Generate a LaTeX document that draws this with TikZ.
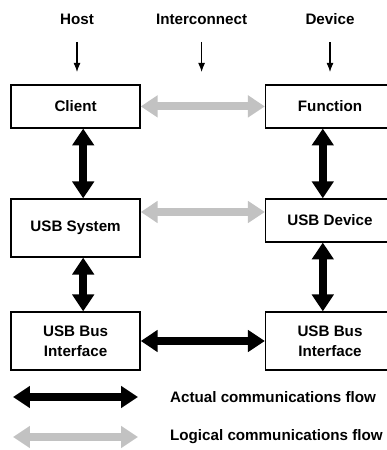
\documentclass[tikz,border=0pt]{standalone}
\usepackage{fontspec}
\setmainfont{Liberation Sans}
\usepackage{tikz}
\tikzset{>=latex}
\usetikzlibrary{arrows.meta}
\definecolor{logicgray}{gray}{0.76}
\tikzstyle{block} = [draw, line width=0.9pt, minimum width=3.225cm, inner sep=0pt, align=center, font=\bfseries\fontsize{10.8}{14}\selectfont]
\tikzstyle{heading} = [font=\bfseries\fontsize{10.8}{14}\selectfont]
\tikzstyle{pointer} = [line width=0.75pt, >={Latex[length=6.5pt,width=5pt]}, ->, shorten <=9pt]
\tikzstyle{flow} = [line width=5.6pt, >={Triangle[length=12pt,width=15pt]}, <->]
\tikzstyle{actual} = [flow, black]
\tikzstyle{logical} = [flow, logicgray]

\begin{document}
\begin{tikzpicture}
		\useasboundingbox (0,0) rectangle (9.675,11.25);
		\clip (0,0) rectangle (9.675,11.25);
		
		% Headings
		\node[heading] (host) at (1.925,10.775) {Host};
		\node[heading] (interconnect) at (5.04,10.775) {Interconnect};
		\node[heading] (device) at (8.25,10.775) {Device};
		
		% Coordinates
		\coordinate (hostin) at (1.925,9.45);
		\coordinate (linkin) at (5.04,9.45);
		\coordinate (devicein) at (8.25,9.45);
		\coordinate (lg) at (0,5.95);
		\coordinate (actualA) at (0.325,1.325);
		\coordinate (actualB) at (3.45,1.325);
		\coordinate (logicalA) at (0.325,0.325);
		\coordinate (logicalB) at (3.45,0.325);
		
		% Blocks
		%% Host side
		\node[block, minimum height=1.075cm] (client) at (1.89,8.59) {Client};
		\node[block, minimum height=1.45cm] (usbsys) at (1.89,5.55) {USB System};
		\node[block, minimum height=1.45cm] (hostbus) at (1.89,2.725) {USB Bus\\Interface};
		%% Device side
		\node[block, minimum height=1.075cm] (function) at (8.25,8.59) {Function};
		\node[block, minimum height=1.075cm] (usbdev) at (8.25,5.74) {USB Device};
		\node[block, minimum height=1.45cm] (devbus) at (8.25,2.725) {USB Bus\\Interface};
		
		% Pointers
		\draw[pointer] (host) -- (hostin);
		\draw[pointer] (interconnect) -- (linkin);
		\draw[pointer] (device) -- (devicein);
		
		% Actual flow
		\draw[actual] ([xshift=0.19cm]client.south) -- ([xshift=0.19cm]usbsys.north);
		\draw[actual] ([xshift=0.19cm]usbsys.south) -- ([xshift=0.19cm]hostbus.north);
		\draw[actual] ([xshift=-0.18cm]function.south) -- ([xshift=-0.18cm]usbdev.north);
		\draw[actual] ([xshift=-0.18cm]usbdev.south) -- ([xshift=-0.18cm]devbus.north);
		\draw[actual] (hostbus) -- (devbus);
		
		% Logical flow
		\draw[logical] (client) -- (function);
		\draw[logical] (usbsys.east |- lg) -- (usbdev.west |- lg);
		
		% Legend
		\draw[actual] (actualA) -- (actualB);
		\node[heading, anchor=west] (actualtxt) at (4.13,1.325) {Actual communications flow};
		\draw[logical] (logicalA) -- (logicalB);
		\node[heading, anchor=west] (logicaltxt) at (4.13,0.325) {Logical communications flow};
	\end{tikzpicture}
\end{document}
